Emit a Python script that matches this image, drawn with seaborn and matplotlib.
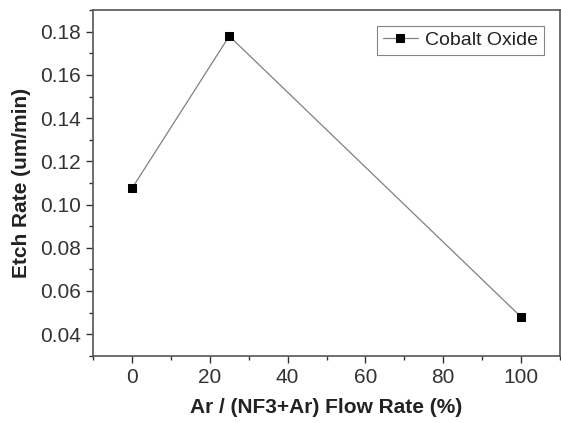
import matplotlib
matplotlib.use("Agg")
import matplotlib.pyplot as plt
import seaborn as sns
import pandas as pd
from matplotlib.ticker import MultipleLocator

# datos
flow_rate = [0, 25, 100]
etch_rate = [0.1075, 0.178, 0.048]
series_name = "Cobalt Oxide"
x_ticks = [0, 20, 40, 60, 80, 100]
y_ticks = [0.04, 0.06, 0.08, 0.10, 0.12, 0.14, 0.16, 0.18]

df = pd.DataFrame({"flow": flow_rate, "rate": etch_rate, "serie": series_name})

sns.set_style("ticks")
plt.rcParams['font.family'] = ['Liberation Sans', 'DejaVu Sans']

fig = plt.figure(figsize=(5.61, 4.23), dpi=100)
ax = fig.add_axes([0.166, 0.159, 0.832, 0.817])

sns.lineplot(data=df, x="flow", y="rate", hue="serie", palette=["#808080"],
             marker="s", markersize=6, markerfacecolor="black", markeredgecolor="black",
             linewidth=0.9, ax=ax)

ax.set_xlim(-10, 110)
ax.set_ylim(0.03, 0.19)
ax.set_xticks(x_ticks)
ax.xaxis.set_minor_locator(MultipleLocator(10))
ax.set_yticks(y_ticks)
ax.set_yticklabels([f"{v:.2f}" for v in y_ticks])
ax.yaxis.set_minor_locator(MultipleLocator(0.01))

ax.tick_params(axis='both', which='major', direction='out', length=5, width=1,
               labelsize=15, colors='#333333', labelcolor='#333333', pad=4)
ax.tick_params(axis='both', which='minor', direction='out', length=3, width=1, colors='#333333')
for s in ax.spines.values():
    s.set_color('#555555')
    s.set_linewidth(1.2)

ax.set_xlabel("Ar / (NF3+Ar) Flow Rate (%)", fontsize=15, fontweight='bold',
              color='#222222', labelpad=8)
ax.set_ylabel("Etch Rate (um/min)", fontsize=15, fontweight='bold',
              color='#222222', labelpad=6)

leg = ax.legend(loc='upper right', fontsize=14, frameon=True, fancybox=False,
                edgecolor='#666666', handlelength=1.8, handletextpad=0.4,
                borderpad=0.3, borderaxespad=0.8)
leg.get_frame().set_linewidth(0.8)
for t in leg.get_texts():
    t.set_color('#222222')

fig.savefig("out.png", dpi=100)
